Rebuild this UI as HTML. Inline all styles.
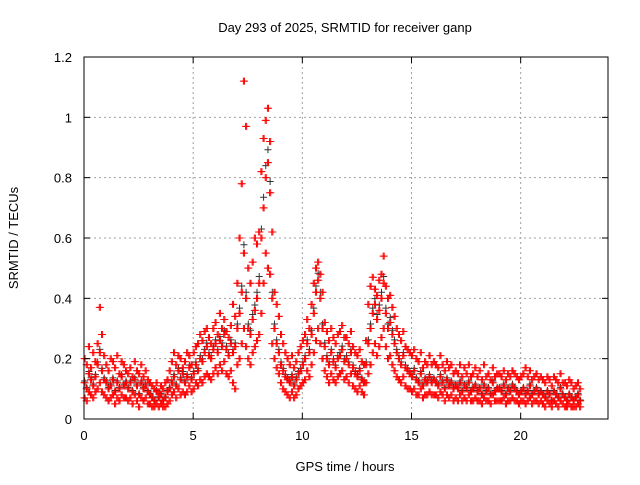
<!DOCTYPE html>
<html><head><meta charset="utf-8"><style>
body{margin:0;background:#fff;}
svg text{font-family:"Liberation Sans",sans-serif;font-size:13px;fill:#000;}
</style></head><body>
<svg id="chart" width="640" height="480" xmlns="http://www.w3.org/2000/svg">
<rect width="640" height="480" fill="#fff"/>
<text x="345" y="32" text-anchor="middle">Day 293 of 2025, SRMTID for receiver ganp</text>
<text x="345" y="471" text-anchor="middle">GPS time / hours</text>
<text x="18" y="238" text-anchor="middle" transform="rotate(-90 18 238)">SRMTID / TECUs</text>
<g id="grid"></g><g id="pts"></g><g id="axes"></g>
</svg>
<script>
const xTicks=[0,5,10,15,20];
const yTicks=[0,0.2,0.4,0.6,0.8,1,1.2];
const yTickLabels=["0","0.2","0.4","0.6","0.8","1","1.2"];
const startHour=0, stepHour=0.1;
const centre=[.12,.10,.15,.13,.11,.14,.18,.22,.16,.13,.12,.10,.11,.13,.09,.12,.10,.14,.11,.12,.10,.12,.09,.13,.11,.08,.12,.10,.11,.09,.08,.07,.06,.09,.07,.08,.06,.07,.09,.10,.12,.14,.11,.16,.13,.15,.12,.14,.17,.13,.15,.18,.16,.20,.19,.22,.24,.21,.20,.23,.25,.22,.26,.24,.28,.23,.21,.25,.22,.24,.30,.35,.42,.55,.40,.30,.28,.33,.36,.40,.45,.60,.70,.80,.85,.75,.40,.30,.25,.22,.18,.16,.14,.13,.12,.14,.11,.13,.15,.16,.18,.20,.25,.22,.28,.35,.42,.46,.40,.30,.24,.20,.18,.22,.19,.17,.20,.21,.23,.19,.20,.18,.22,.17,.15,.14,.16,.13,.12,.18,.25,.30,.35,.38,.33,.36,.40,.45,.35,.30,.32,.28,.25,.22,.20,.18,.21,.17,.16,.15,.14,.16,.13,.12,.15,.11,.13,.12,.14,.12,.13,.12,.11,.14,.12,.10,.13,.11,.12,.10,.11,.10,.12,.09,.11,.10,.12,.09,.10,.11,.09,.10,.08,.11,.09,.10,.08,.12,.09,.10,.10,.09,.11,.08,.10,.09,.11,.10,.09,.08,.09,.10,.08,.09,.11,.08,.09,.10,.08,.09,.08,.07,.09,.08,.06,.09,.08,.07,.10,.08,.07,.06,.08,.07,.06,.07,.08,.06];
const upper=[.20,.18,.24,.17,.22,.19,.25,.37,.28,.21,.18,.16,.20,.19,.17,.21,.15,.19,.18,.16,.15,.17,.14,.19,.16,.15,.18,.14,.16,.13,.12,.11,.10,.12,.09,.11,.10,.12,.13,.16,.19,.22,.18,.21,.20,.17,.19,.22,.21,.18,.22,.24,.25,.28,.26,.29,.30,.27,.25,.30,.32,.28,.35,.30,.33,.29,.27,.31,.38,.34,.45,.60,.78,1.12,.97,.50,.45,.52,.60,.58,.62,.82,.93,.99,1.03,.92,.62,.42,.38,.34,.28,.25,.22,.20,.18,.21,.17,.19,.22,.24,.26,.28,.33,.30,.38,.45,.50,.52,.48,.42,.32,.29,.26,.30,.27,.25,.28,.29,.31,.27,.27,.25,.29,.24,.22,.21,.23,.19,.18,.26,.38,.44,.47,.43,.41,.46,.48,.54,.44,.40,.41,.37,.34,.30,.28,.26,.29,.24,.23,.22,.21,.23,.20,.19,.22,.17,.19,.18,.21,.18,.19,.18,.17,.21,.18,.16,.19,.17,.18,.15,.16,.15,.18,.14,.17,.15,.18,.14,.15,.17,.14,.16,.13,.18,.14,.15,.13,.17,.14,.15,.15,.14,.16,.13,.15,.14,.16,.15,.14,.13,.14,.15,.17,.14,.16,.13,.14,.15,.13,.14,.13,.12,.14,.13,.11,.14,.13,.12,.15,.12,.12,.11,.13,.12,.10,.11,.12,.10];
const lower=[.07,.06,.09,.08,.07,.09,.10,.12,.09,.08,.07,.06,.07,.08,.05,.07,.06,.08,.07,.07,.06,.07,.05,.08,.06,.04,.07,.06,.07,.05,.05,.04,.04,.05,.04,.05,.04,.04,.05,.06,.08,.09,.07,.10,.08,.09,.08,.09,.11,.09,.10,.12,.11,.13,.12,.14,.15,.14,.13,.15,.17,.15,.18,.16,.19,.15,.14,.16,.12,.10,.18,.20,.25,.30,.24,.20,.18,.22,.24,.26,.28,.35,.45,.55,.50,.48,.25,.20,.17,.15,.12,.10,.09,.08,.07,.09,.07,.08,.10,.11,.12,.13,.16,.14,.18,.22,.26,.30,.25,.20,.16,.14,.12,.15,.13,.12,.14,.15,.16,.13,.14,.12,.15,.11,.10,.09,.11,.09,.08,.12,.15,.18,.22,.25,.21,.24,.27,.30,.24,.20,.21,.18,.16,.14,.13,.12,.14,.11,.10,.10,.09,.10,.08,.08,.10,.07,.08,.08,.09,.08,.08,.08,.07,.09,.08,.06,.08,.07,.08,.06,.07,.06,.08,.06,.07,.06,.08,.06,.06,.07,.06,.06,.05,.07,.06,.06,.05,.08,.06,.06,.06,.06,.07,.05,.06,.06,.07,.06,.06,.05,.06,.06,.05,.06,.07,.05,.06,.06,.05,.06,.05,.04,.06,.05,.04,.06,.05,.04,.06,.05,.04,.04,.05,.04,.04,.04,.05,.04];

const X0=84,X1=608,Y0=419,Y1=57;
const xs=h=>X0+(h/24)*(X1-X0);
const ys=v=>Y0-(v/1.2)*(Y0-Y1);
const NS="http://www.w3.org/2000/svg";
function mk(tag,attrs,parent){const e=document.createElementNS(NS,tag);for(const k in attrs)e.setAttribute(k,attrs[k]);parent.appendChild(e);return e;}
const grid=document.getElementById('grid'),axes=document.getElementById('axes'),pts=document.getElementById('pts');
yTicks.forEach((v,i)=>{
  const y=ys(v);
  if(i>0&&i<yTicks.length-1){const g=mk('line',{x1:X0,x2:X1,y1:y,y2:y,stroke:'#a0a0a0','stroke-dasharray':'2,3'},grid);
  
  }
  const t=mk('line',{x1:X0,x2:X0+6,y1:y,y2:y,stroke:'#000'},axes);
  
  
  const t2=mk('line',{x1:X1-6,x2:X1,y1:y,y2:y,stroke:'#000'},axes);
  
  
  const l=mk('text',{x:X0-12,y:y+5,'text-anchor':'end'},axes);l.textContent=yTickLabels[i];
  
  
});
xTicks.forEach(h=>{
  const x=xs(h);
  if(h>0){const g=mk('line',{x1:x,x2:x,y1:Y1,y2:Y0,stroke:'#a0a0a0','stroke-dasharray':'2,3'},grid);
  
  }
  const t=mk('line',{x1:x,x2:x,y1:Y0,y2:Y0-6,stroke:'#000'},axes);
  
  
  const t2=mk('line',{x1:x,x2:x,y1:Y1,y2:Y1+6,stroke:'#000'},axes);
  
  
  const l=mk('text',{x:x,y:Y0+21,'text-anchor':'middle'},axes);l.textContent=String(h);
  
  
});
const fr=mk('rect',{x:X0,y:Y1,width:X1-X0,height:Y0-Y1,fill:'none',stroke:'#000'},axes);


function plus(x,y,color,name){
  const p=mk('path',{d:`M${x-3.5} ${y}h7M${x} ${y-3.5}v7`,stroke:color,'stroke-width':1,fill:'none'},pts);
  
  
}
centre.forEach((v,i)=>plus(xs(startHour+i*stepHour+0.025),ys(v*1.05),'#333','point-black'));
[centre,upper,lower].forEach(arr=>arr.forEach((v,i)=>{
  plus(xs(startHour+i*stepHour),ys(v),'#f00','point-red');
  plus(xs(startHour+i*stepHour+0.05),ys(v),'#f00','point-red');
}));
</script>
</body></html>
